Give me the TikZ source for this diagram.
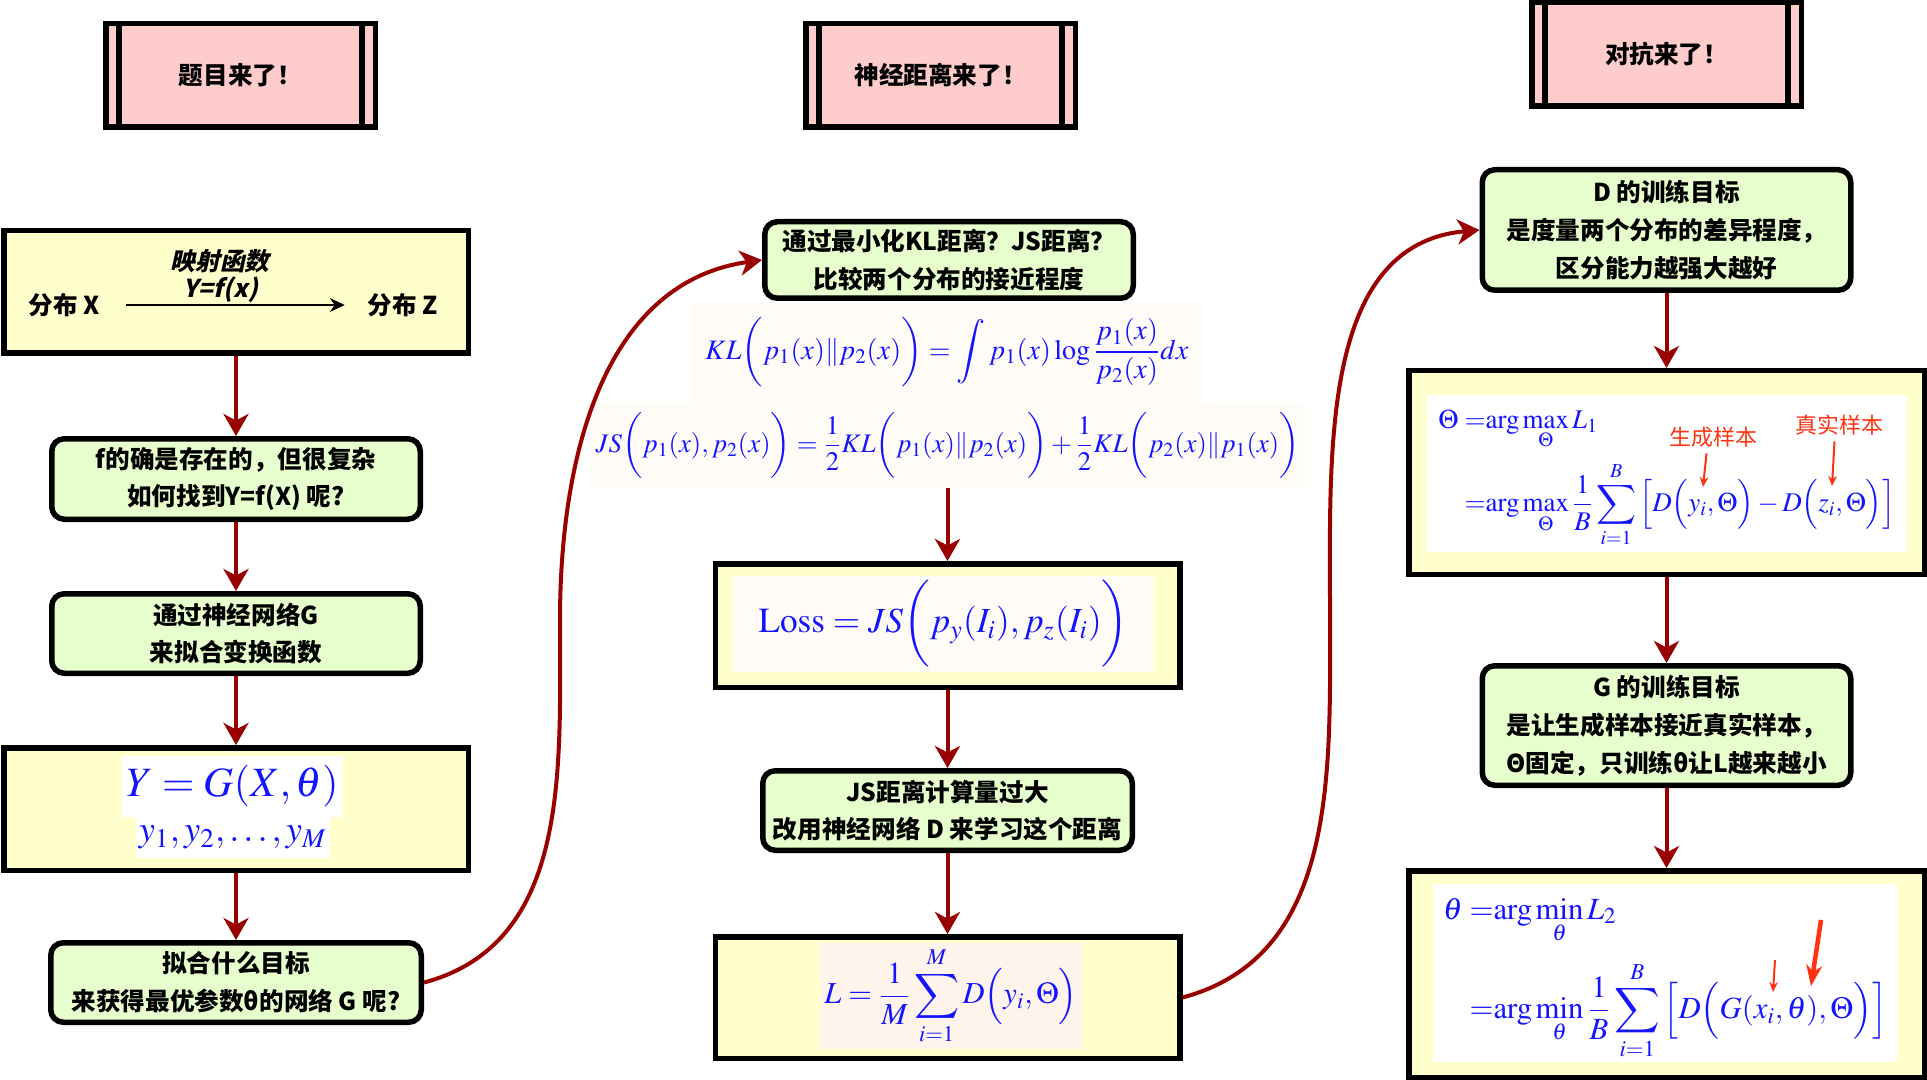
\documentclass[tikz,border=0pt]{standalone}
\usepackage{amsmath}
\usepackage{mathptmx}
\DeclareSymbolFont{largesymbols}{OMX}{cmex}{m}{n}
\usepackage{graphicx}
\usepackage{fontspec}
\newfontfamily\cjk{Noto Sans CJK SC}
\newfontfamily\cjkslant{Noto Sans CJK SC}[UprightFeatures={FakeSlant=0.22}, BoldFeatures={FakeSlant=0.22}]
\usetikzlibrary{arrows.meta}

\definecolor{pinkfill}{HTML}{FFCCCC}
\definecolor{yellowfill}{HTML}{FFFFCC}
\definecolor{greenfill}{HTML}{E6FFCC}
\definecolor{linkred}{HTML}{990000}
\definecolor{formblue}{HTML}{1414FF}
\definecolor{notered}{HTML}{FF3311}
\definecolor{formbg}{HTML}{FFFBF7}
\definecolor{lossbg}{HTML}{FFF4EC}

\newcommand{\boxfont}{\cjk\bfseries\fontsize{14pt}{21.5pt}\selectfont}
\newcommand{\slantfont}{\cjkslant\bfseries\fontsize{14pt}{21.5pt}\selectfont}
\newcommand{\notefont}{\cjk\fontsize{12.5pt}{14pt}\selectfont}

\tikzset{
  titlebox/.style={draw, line width=0.11cm, fill=pinkfill, minimum width=5.39cm, minimum height=2.07cm},
  greenbox/.style={draw, line width=0.11cm, rounded corners=0.25cm, fill=greenfill, align=center},
  yellowbox/.style={draw, line width=0.11cm, fill=yellowfill},
  formula/.style={inner sep=0pt, text=formblue},
  link/.style={draw=linkred, line width=0.08cm, -{Stealth[length=0.44cm, width=0.5cm, inset=0.13cm]}},
  notearrow/.style={draw=notered, line width=0.04cm, -{Stealth[length=0.2cm, width=0.17cm]}},
}

\begin{document}
\begin{tikzpicture}[>=stealth, font=\boxfont]
	\useasboundingbox (0,0) rectangle (38.54,-21.6);
	% column titles
	\node[titlebox] (tl) at (4.81,-1.51) {题目来了！};
	\node[titlebox] (tm) at (18.81,-1.51) {神经距离来了！};
	\node[titlebox] (tr) at (33.33,-1.09) {对抗来了！};
	\draw[line width=0.11cm] ([xshift=0.32cm]tl.north west) -- ([xshift=0.32cm]tl.south west) ([xshift=-0.32cm]tl.north east) -- ([xshift=-0.32cm]tl.south east);
	\draw[line width=0.11cm] ([xshift=0.32cm]tm.north west) -- ([xshift=0.32cm]tm.south west) ([xshift=-0.32cm]tm.north east) -- ([xshift=-0.32cm]tm.south east);
	\draw[line width=0.11cm] ([xshift=0.32cm]tr.north west) -- ([xshift=0.32cm]tr.south west) ([xshift=-0.32cm]tr.north east) -- ([xshift=-0.32cm]tr.south east);

	% left column: the problem
	\node[yellowbox, minimum width=9.29cm, minimum height=2.45cm] (l1) at (4.72,-5.84) {};
	\node (dx) at (1.28,-6.1) {分布 X};
	\node (dz) at (8.06,-6.1) {分布 Z};
	\node[font=\slantfont] (map1) at (4.40,-5.22) {映射函数};
	\node[font=\slantfont] (map2) at (4.42,-5.80) {Y=f(x)};
	\draw[line width=0.04cm, -{Stealth[length=0.3cm, width=0.28cm]}, shorten <=0.4cm, shorten >=0.34cm] (dx.east) -- (dz.west);
	\node[greenbox, minimum width=7.37cm, minimum height=1.61cm] (l2) at (4.72,-9.58) {f的确是存在的，但很复杂\\如何找到Y=f(X) 呢?};
	\node[greenbox, minimum width=7.37cm, minimum height=1.59cm] (l3) at (4.72,-12.67) {通过神经网络G\\来拟合变换函数};
	\node[yellowbox, minimum width=9.29cm, minimum height=2.45cm] (l4) at (4.72,-16.18) {};
	\node[formula, fill=white, minimum width=4.42cm, minimum height=1.22cm] (yg) at (4.65,-15.73) {\resizebox{4.24cm}{!}{$Y=G(X,\theta)$}};
	\node[formula, fill=white, minimum width=3.88cm, minimum height=0.82cm] (ym) at (4.66,-16.75) {\resizebox{3.76cm}{!}{$y_1,y_2,\ldots,y_M$}};
	\node[greenbox, minimum width=7.41cm, minimum height=1.59cm] (l5) at (4.72,-19.65) {拟合什么目标\\来获得最优参数θ的网络 G 呢?};

	% middle column: the distance
	\node[greenbox, minimum width=7.37cm, minimum height=1.53cm] (m1) at (18.98,-5.20) {通过最小化KL距离？JS距离？\\比较两个分布的接近程度};
	\node[formula, fill=formbg, minimum width=10.2cm, minimum height=2.0cm] (kl) at (18.94,-7.04) {\resizebox{9.66cm}{!}{$\displaystyle KL\bigg(p_1(x)\|p_2(x)\bigg)=\int p_1(x)\log\frac{p_1(x)}{p_2(x)}dx$}};
	\node[formula, fill=formbg, minimum width=14.3cm, minimum height=1.7cm] (js) at (18.95,-8.91) {\resizebox{14.08cm}{!}{$\displaystyle JS\bigg(p_1(x),p_2(x)\bigg)=\frac{1}{2}KL\bigg(p_1(x)\|p_2(x)\bigg)+\frac{1}{2}KL\bigg(p_2(x)\|p_1(x)\bigg)$}};
	\node[yellowbox, minimum width=9.29cm, minimum height=2.47cm] (m2) at (18.95,-12.51) {};
	\node[formula, fill=formbg, minimum width=8.42cm, minimum height=1.92cm] (loss) at (18.87,-12.48) {\resizebox{7.4cm}{!}{$\mathrm{Loss}=JS\bigg(p_y(I_i),p_z(I_i)\bigg)$}};
	\node[greenbox, minimum width=7.39cm, minimum height=1.59cm] (m3) at (18.95,-16.21) {JS距离计算量过大\\改用神经网络 D 来学习这个距离};
	\node[yellowbox, minimum width=9.29cm, minimum height=2.43cm] (m4) at (18.95,-19.95) {};
	\node[formula, fill=lossbg, minimum width=5.24cm, minimum height=2.12cm] (lsum) at (19.02,-19.92) {\resizebox{5.06cm}{!}{$\displaystyle L=\frac{1}{M}\sum_{i=1}^{M}D\Big(y_i,\Theta\Big)$}};

	% right column: the game
	\node[greenbox, minimum width=7.37cm, minimum height=2.41cm] (r1) at (33.33,-4.60) {D 的训练目标\\是度量两个分布的差异程度，\\区分能力越强大越好};
	\node[yellowbox, minimum width=10.31cm, minimum height=4.07cm] (r2) at (33.33,-9.45) {};
	\node[formula, fill=white, minimum width=9.6cm, minimum height=3.14cm] (dform) at (33.34,-9.47) {\resizebox{9.14cm}{!}{$\begin{aligned}\displaystyle\Theta\ &\displaystyle{=}\mathrm{arg}\max_{\Theta}L_1\\[2pt] &\displaystyle{=}\mathrm{arg}\max_{\Theta}\frac{1}{B}\sum_{i=1}^{B}\Big[D\Big(y_i,\Theta\Big)-D\Big(z_i,\Theta\Big)\Big]\end{aligned}$}};
	\node[font=\notefont, text=notered] (gen) at (34.27,-8.74) {生成样本};
	\node[font=\notefont, text=notered] (real) at (36.79,-8.50) {真实样本};
	\coordinate (ya) at (34.06,-9.74);
	\coordinate (za) at (36.64,-9.72);
	\draw[notearrow] ([xshift=-0.14cm]gen.south) -- (ya);
	\draw[notearrow] ([xshift=-0.1cm]real.south) -- (za);
	\node[greenbox, minimum width=7.37cm, minimum height=2.39cm] (r3) at (33.33,-14.51) {G 的训练目标\\是让生成样本接近真实样本，\\Θ固定，只训练θ让L越来越小};
	\node[yellowbox, minimum width=10.31cm, minimum height=4.13cm] (r4) at (33.33,-19.48) {};
	\node[formula, fill=white, minimum width=9.28cm, minimum height=3.56cm] (gform) at (33.30,-19.46) {\resizebox{8.88cm}{!}{$\begin{aligned}\displaystyle\theta\ &\displaystyle{=}\mathrm{arg}\min_{\theta}L_2\\[4pt] &\displaystyle{=}\mathrm{arg}\min_{\theta}\frac{1}{B}\sum_{i=1}^{B}\Big[D\Big(G(x_i,\theta),\Theta\Big)\Big]\end{aligned}$}};
	\coordinate (xa0) at (35.50,-19.20);
	\coordinate (xa1) at (35.46,-19.84);
	\coordinate (ta0) at (36.42,-18.40);
	\coordinate (ta1) at (36.22,-19.72);
	\draw[notearrow] (xa0) -- (xa1);
	\draw[draw=notered, line width=0.09cm, -{Stealth[length=0.42cm, width=0.32cm]}] (ta0) -- (ta1);

	% connectors
	\draw[link] (l1.south) -- (l2.north);
	\draw[link] (l2.south) -- (l3.north);
	\draw[link] (l3.south) -- (l4.north);
	\draw[link] (l4.south) -- (l5.north);
	\coordinate (bend1) at (11.2,-12.4);
	\draw[link] (l5.east) to[out=15,in=-90] (bend1) to[out=90,in=188] (m1.west);
	\draw[link] (js.south) -- (m2.north);
	\draw[link] (m2.south) -- (m3.north);
	\draw[link] (m3.south) -- (m4.north);
	\coordinate (bend2) at (26.6,-12.2);
	\draw[link] (m4.east) to[out=15,in=-90] (bend2) to[out=90,in=185] (r1.west);
	\draw[link] (r1.south) -- (r2.north);
	\draw[link] (r2.south) -- (r3.north);
	\draw[link] (r3.south) -- (r4.north);
\end{tikzpicture}
\end{document}
